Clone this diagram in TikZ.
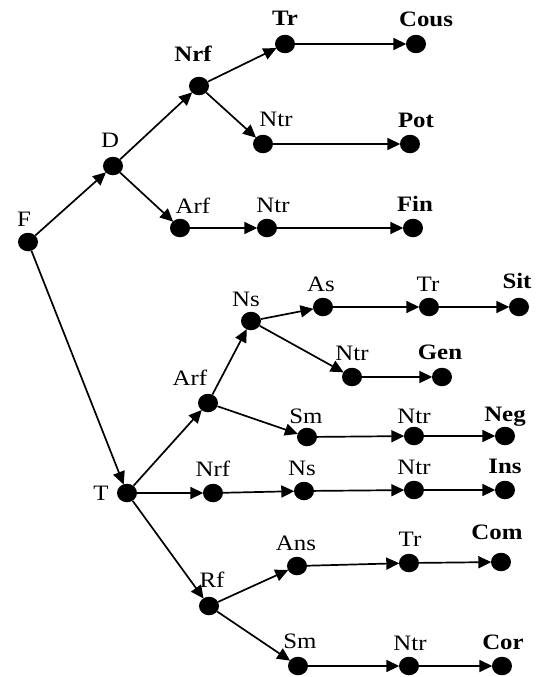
\documentclass[tikz,border=0pt]{standalone}
\usepackage{fontspec}
\setmainfont{Liberation Serif}
\usetikzlibrary{arrows.meta,shapes.geometric}
\newcommand{\wt}[1]{\scalebox{1.13}[1]{#1}}
\begin{document}
\begin{tikzpicture}[x=1pt,y=-1pt,
  dotnode/.style={ellipse,fill=black,draw=none,minimum width=20pt,minimum height=18.5pt,inner sep=0pt},
  lbl/.style={anchor=base,inner sep=0pt,font=\fontsize{22}{25}\selectfont},
  blbl/.style={lbl,font=\fontsize{22}{25}\selectfont\bfseries},
  conn/.style={line width=1.7pt,-{Triangle[length=13pt,width=12pt]},shorten >=-0.5pt}]
\useasboundingbox (0,0) rectangle (539,677);
% dots
\node[dotnode] (F) at (28,242) {};
\node[dotnode] (D) at (113,166) {};
\node[dotnode] (Nrf1) at (199,86) {};
\node[dotnode] (Tr1) at (285,44) {};
\node[dotnode] (Cous) at (416,44) {};
\node[dotnode] (Ntr1) at (263,144) {};
\node[dotnode] (Pot) at (410,144) {};
\node[dotnode] (Arf1) at (180,228) {};
\node[dotnode] (Ntr2) at (267,228) {};
\node[dotnode] (Fin) at (413,228) {};
\node[dotnode] (T) at (127,493) {};
\node[dotnode] (Arf2) at (208,403) {};
\node[dotnode] (Ns1) at (251,321) {};
\node[dotnode] (As) at (323,307) {};
\node[dotnode] (Tr2) at (429,307) {};
\node[dotnode] (Sit) at (519,307) {};
\node[dotnode] (Ntr3) at (352,377) {};
\node[dotnode] (Gen) at (442,377) {};
\node[dotnode] (Sm1) at (307,437) {};
\node[dotnode] (Ntr4) at (414,436) {};
\node[dotnode] (Neg) at (505,436) {};
\node[dotnode] (Nrf2) at (213,493) {};
\node[dotnode] (Ns2) at (304,491) {};
\node[dotnode] (Ntr5) at (414,490) {};
\node[dotnode] (Ins) at (505,490) {};
\node[dotnode] (Rf) at (209,606) {};
\node[dotnode] (Ans) at (297,566) {};
\node[dotnode] (Tr3) at (409,563) {};
\node[dotnode] (Com) at (501,562) {};
\node[dotnode] (Sm2) at (298,666) {};
\node[dotnode] (Ntr6) at (409,666) {};
\node[dotnode] (Cor) at (502,666) {};
% labels
\node[lbl] (lF) at (24,226) {\wt{F}};
\node[lbl] (lD) at (110,147) {\wt{D}};
\node[blbl] (lNrf1) at (193,62) {\wt{Nrf}};
\node[blbl] (lTr1) at (285,26) {\wt{Tr}};
\node[blbl] (lCous) at (426,27) {\wt{Cous}};
\node[lbl] (lNtr1) at (276,126) {\wt{Ntr}};
\node[blbl] (lPot) at (416,127) {\wt{Pot}};
\node[lbl] (lArf1) at (193,213) {\wt{Arf}};
\node[lbl] (lNtr2) at (273,212) {\wt{Ntr}};
\node[blbl] (lFin) at (415,211) {\wt{Fin}};
\node[lbl] (lNs1) at (246,306) {\wt{Ns}};
\node[lbl] (lAs) at (321,291) {\wt{As}};
\node[lbl] (lTr2) at (428,291) {\wt{Tr}};
\node[blbl] (lSit) at (517,288) {\wt{Sit}};
\node[lbl] (lNtr3) at (352,360) {\wt{Ntr}};
\node[blbl] (lGen) at (440,359) {\wt{Gen}};
\node[lbl] (lArf2) at (190,385) {\wt{Arf}};
\node[lbl] (lSm1) at (306,423) {\wt{Sm}};
\node[lbl] (lNtr4) at (414,423) {\wt{Ntr}};
\node[blbl] (lNeg) at (505,421) {\wt{Neg}};
\node[lbl] (lT) at (101,500) {\wt{T}};
\node[lbl] (lNrf2) at (213,476) {\wt{Nrf}};
\node[lbl] (lNs2) at (302,475) {\wt{Ns}};
\node[lbl] (lNtr5) at (414,474) {\wt{Ntr}};
\node[blbl] (lIns) at (505,473) {\wt{Ins}};
\node[lbl] (lRf) at (212,587) {\wt{Rf}};
\node[lbl] (lAns) at (296,550) {\wt{Ans}};
\node[lbl] (lTr3) at (410,546) {\wt{Tr}};
\node[blbl] (lCom) at (497,539) {\wt{Com}};
\node[lbl] (lSm2) at (300,648) {\wt{Sm}};
\node[lbl] (lNtr6) at (410,650) {\wt{Ntr}};
\node[blbl] (lCor) at (503,649) {\wt{Cor}};
% connectors
\foreach \a/\b in {F/D,F/T,D/Nrf1,D/Arf1,Nrf1/Tr1,Nrf1/Ntr1,Tr1/Cous,Ntr1/Pot,
  Arf1/Ntr2,Ntr2/Fin,T/Arf2,T/Nrf2,T/Rf,Arf2/Ns1,Arf2/Sm1,Ns1/As,Ns1/Ntr3,
  As/Tr2,Tr2/Sit,Ntr3/Gen,Sm1/Ntr4,Ntr4/Neg,Nrf2/Ns2,Ns2/Ntr5,Ntr5/Ins,
  Rf/Ans,Rf/Sm2,Ans/Tr3,Tr3/Com,Sm2/Ntr6,Ntr6/Cor}
  \draw[conn] (\a) -- (\b);
\end{tikzpicture}
\end{document}
